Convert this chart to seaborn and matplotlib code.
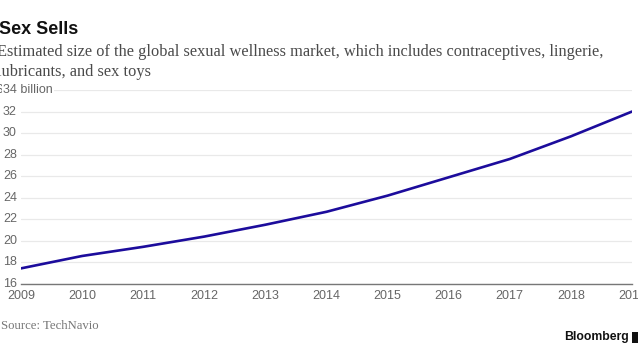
import matplotlib
matplotlib.use("Agg")
import matplotlib.pyplot as plt
import seaborn as sns
import pandas as pd
import matplotlib.transforms as mtransforms
from matplotlib.patches import Rectangle

years = [2009, 2010, 2011, 2012, 2013, 2014, 2015, 2016, 2017, 2018, 2019]
market = [17.45, 18.6, 19.45, 20.4, 21.5, 22.7, 24.2, 25.9, 27.6, 29.7, 32.0]
yticks = [16, 18, 20, 22, 24, 26, 28, 30, 32, 34]
ytick_labels = ["16", "18", "20", "22", "24", "26", "28", "30", "32", "34 billion"]

sns.set_style("white")
plt.rcParams["font.family"] = ["Liberation Sans", "DejaVu Sans"]

df = pd.DataFrame({"year": years, "value": market})

fig = plt.figure(figsize=(6.38, 3.59), dpi=100)
ax = fig.add_axes([21/638, 1 - 284/359, (632 - 21)/638, (284 - 90)/359])

sns.lineplot(data=df, x="year", y="value", ax=ax, color="#1c0c9c", linewidth=1.9)

ax.set_xlim(2009, 2019)
ax.set_ylim(16, 34)
ax.set_xlabel("")
ax.set_ylabel("")
for s in ["top", "right", "left"]:
    ax.spines[s].set_visible(False)
ax.spines["bottom"].set_color("#777777")
ax.spines["bottom"].set_linewidth(1.0)

ax.set_xticks(years)
ax.set_xticklabels([str(y) for y in years])
ax.tick_params(axis="x", direction="out", length=3, width=0.8, color="#777777",
               labelsize=9, labelcolor="#666666", pad=1.5)
ax.set_yticks(yticks)
ax.set_yticklabels([])
ax.tick_params(axis="y", length=0)
ax.grid(axis="y", color="#e9e9e9", linewidth=0.9)
ax.grid(axis="x", visible=False)

trans = mtransforms.blended_transform_factory(fig.transFigure, ax.transData)
for v, lab in zip(yticks, ytick_labels):
    ax.text(3/638, v, lab, transform=trans, ha="left", va="center", fontsize=9,
            color="#666666", clip_on=False,
            bbox=dict(facecolor="white", edgecolor="none", pad=1.0) if v == 34 else None,
            zorder=5)
ax.text(3/638, 34, "$", transform=trans, ha="right", va="center", fontsize=9,
        color="#666666", clip_on=False)

serif = ["Liberation Serif", "DejaVu Serif"]
fig.text(-1/638, 1 - 29/359, "Sex Sells", fontsize=13, fontweight="bold",
         color="#111111", ha="left", va="center")
fig.text(-3/638, 1 - 52/359,
         "Estimated size of the global sexual wellness market, which includes contraceptives, lingerie,",
         fontsize=11.8, family=serif, color="#4a4a4a", ha="left", va="center")
fig.text(-3/638, 1 - 72/359, "lubricants, and sex toys",
         fontsize=11.8, family=serif, color="#4a4a4a", ha="left", va="center")
fig.text(1/638, 1 - 326/359, "Source: TechNavio", fontsize=9.2,
         family=serif, color="#777777", ha="left", va="center")
fig.text(564/638, 1 - 337/359, "Bloomberg", fontsize=8.8, fontweight="bold",
         color="#111111", ha="left", va="center")
fig.patches.append(Rectangle((632/638, 1 - 343/359), 8/638, 11/359,
                             transform=fig.transFigure, facecolor="#111111",
                             edgecolor="none"))

fig.savefig("out.png", dpi=100)
